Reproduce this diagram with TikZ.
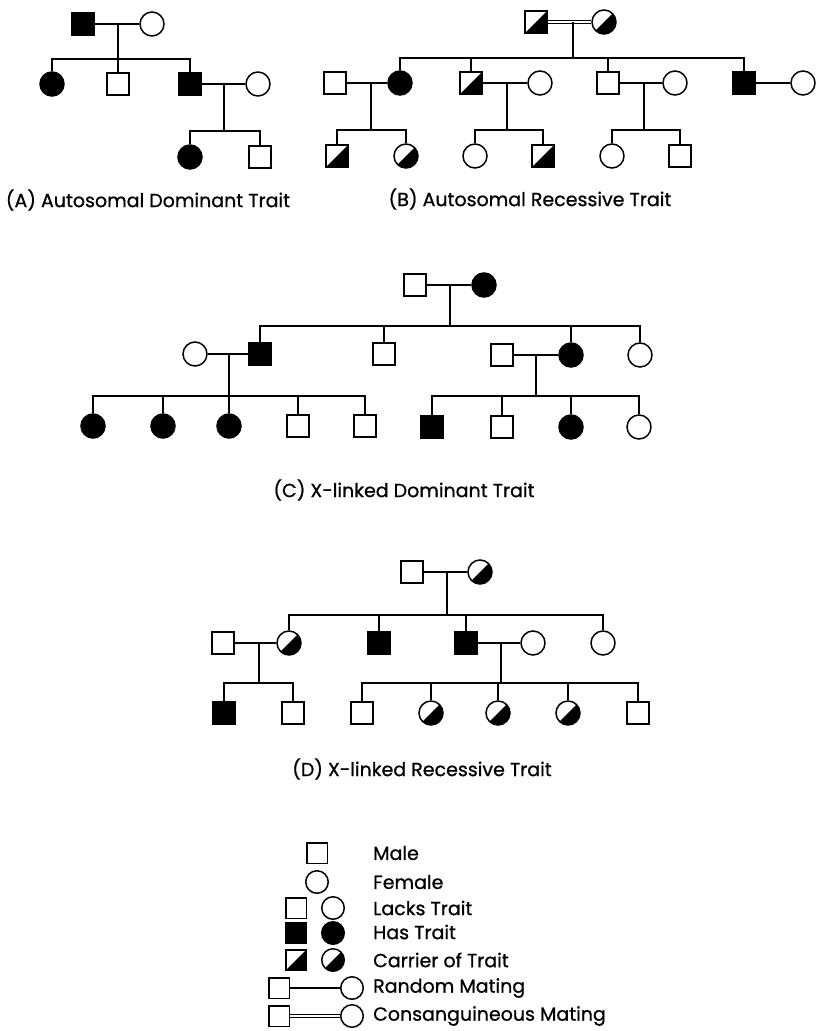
\documentclass[tikz,border=0pt]{standalone}
\usepackage{fontspec}
\setmainfont{Poppins}
\newfontfamily\labfont{Poppins}[FakeBold=0.8]
\usetikzlibrary{calc}
\begin{document}
\begin{tikzpicture}[x=1pt,y=-1pt,
  ln/.style={line width=1.5pt},
  dbl/.style={line width=1.1pt, double distance=2pt},
  msq/.style={draw, line width=1.5pt, rectangle, minimum size=22pt, inner sep=0pt},
  fci/.style={draw, line width=1.5pt, circle, minimum size=24pt, inner sep=0pt},
  lsq/.style={msq, minimum size=20.5pt},
  lci/.style={fci, minimum size=22.5pt},
  aff/.style={fill=black},
  car/.style={path picture={\fill[black] (path picture bounding box.south west) -- (path picture bounding box.south east) -- (path picture bounding box.north east) -- cycle;}},
  lab/.style={font=\labfont\fontsize{19}{22}\selectfont, inner sep=0pt},
  leg/.style={lab, anchor=west}
]
\useasboundingbox (0,0) rectangle (825,1031);

% ---------------- Panel A ----------------
\node[msq,aff] (a1) at (83,24) {};
\node[fci] (a2) at (152,24) {};
\node[fci,aff] (a3) at (52,84) {};
\node[msq] (a4) at (118,84) {};
\node[msq,aff] (a5) at (190,84) {};
\node[fci] (a6) at (258,84) {};
\node[fci,aff] (a7) at (190,157) {};
\node[msq] (a8) at (260,157) {};
\coordinate (am) at (118,24);
\coordinate (as) at (118,59);
\coordinate (bm2) at (224,84);
\coordinate (as2) at (224,131);
\draw[ln] (a1) -- (a2);
\draw[ln] (am) -- (as);
\draw[ln] (a3.north) -- (a3 |- as) -- (a5 |- as) -- (a5.north);
\draw[ln] (a4.north) -- (a4 |- as);
\draw[ln] (a5) -- (a6);
\draw[ln] (bm2) -- (as2);
\draw[ln] (a7.north) -- (a7 |- as2) -- (a8 |- as2) -- (a8.north);
\node[lab] (la) at (148,200) {(A) Autosomal Dominant Trait};

% ---------------- Panel B ----------------
\node[msq,car] (b1) at (536,22) {};
\node[fci,car] (b2) at (604,22) {};
\coordinate (bm) at (573,22);
\coordinate (bs) at (573,58);
\draw[dbl] (b1) -- (b2);
\draw[ln] (bm) -- (bs);
\node[msq] (b4) at (335,83) {};
\node[fci,aff] (b3) at (400,83) {};
\node[msq,car] (b5) at (471,83) {};
\node[fci] (b6) at (540,83) {};
\node[msq] (b7) at (608,83) {};
\node[fci] (b8) at (675,83) {};
\node[msq,aff] (b9) at (744,83) {};
\node[fci] (b10) at (803,83) {};
\draw[ln] (b3.north) -- (b3 |- bs) -- (b9 |- bs) -- (b9.north);
\draw[ln] (b5.north) -- (b5 |- bs);
\draw[ln] (b7.north) -- (b7 |- bs);
\draw[ln] (b4) -- (b3);
\draw[ln] (b5) -- (b6);
\draw[ln] (b7) -- (b8);
\draw[ln] (b9) -- (b10);
\coordinate (bm1) at (371,83);
\coordinate (bs1) at (371,130);
\coordinate (bm2) at (507,83);
\coordinate (bs2) at (507,130);
\coordinate (bm3) at (644,83);
\coordinate (bs3) at (644,130);
\draw[ln] (bm1) -- (bs1);
\draw[ln] (bm2) -- (bs2);
\draw[ln] (bm3) -- (bs3);
\node[msq,car] (b11) at (337,156) {};
\node[fci,car] (b12) at (406,156) {};
\node[fci] (b13) at (475,156) {};
\node[msq,car] (b14) at (543,156) {};
\node[fci] (b15) at (612,156) {};
\node[msq] (b16) at (680,156) {};
\draw[ln] (b11.north) -- (b11 |- bs1) -- (b12 |- bs1) -- (b12.north);
\draw[ln] (b13.north) -- (b13 |- bs2) -- (b14 |- bs2) -- (b14.north);
\draw[ln] (b15.north) -- (b15 |- bs3) -- (b16 |- bs3) -- (b16.north);
\node[lab] (lb) at (530,199) {(B) Autosomal Recessive Trait};

% ---------------- Panel C ----------------
\node[msq] (c1) at (415,285) {};
\node[fci,aff] (c2) at (484,285) {};
\coordinate (cm) at (450,285);
\coordinate (cs) at (450,326);
\draw[ln] (c1) -- (c2);
\draw[ln] (cm) -- (cs);
\node[fci] (c7) at (195,354) {};
\node[msq,aff] (c3) at (260,354) {};
\node[msq] (c4) at (384,354) {};
\node[msq] (c8) at (502,355) {};
\node[fci,aff] (c5) at (571,355) {};
\node[fci] (c6) at (640,355) {};
\draw[ln] (c3.north) -- (c3 |- cs) -- (c6 |- cs) -- (c6.north);
\draw[ln] (c4.north) -- (c4 |- cs);
\draw[ln] (c5.north) -- (c5 |- cs);
\draw[ln] (c7) -- (c3);
\draw[ln] (c8) -- (c5);
\coordinate (cm1) at (229,354);
\coordinate (cs1) at (229,396);
\coordinate (cm2) at (536,355);
\coordinate (cs2) at (536,396);
\draw[ln] (cm1) -- (cs1);
\draw[ln] (cm2) -- (cs2);
\node[fci,aff] (c9) at (93,426) {};
\node[fci,aff] (c10) at (163,426) {};
\node[fci,aff] (c11) at (229,426) {};
\node[msq] (c12) at (298,426) {};
\node[msq] (c13) at (365,426) {};
\node[msq,aff] (c14) at (432,427) {};
\node[msq] (c15) at (502,427) {};
\node[fci,aff] (c16) at (571,427) {};
\node[fci] (c17) at (639,427) {};
\draw[ln] (c9.north) -- (c9 |- cs1) -- (c13 |- cs1) -- (c13.north);
\draw[ln] (c10.north) -- (c10 |- cs1);
\draw[ln] (c11.north) -- (c11 |- cs1);
\draw[ln] (c12.north) -- (c12 |- cs1);
\draw[ln] (c14.north) -- (c14 |- cs2) -- (c17 |- cs2) -- (c17.north);
\draw[ln] (c15.north) -- (c15 |- cs2);
\draw[ln] (c16.north) -- (c16 |- cs2);
\node[lab] (lc) at (404,490) {(C) X-linked Dominant Trait};

% ---------------- Panel D ----------------
\node[msq] (d1) at (412,572) {};
\node[fci,car] (d2) at (480,572) {};
\coordinate (dm) at (447,572);
\coordinate (ds) at (447,615);
\draw[ln] (d1) -- (d2);
\draw[ln] (dm) -- (ds);
\node[msq] (d7) at (223,643) {};
\node[fci,car] (d3) at (289,643) {};
\node[msq,aff] (d4) at (379,643) {};
\node[msq,aff] (d5) at (466,643) {};
\node[fci] (d8) at (533,643) {};
\node[fci] (d6) at (603,643) {};
\draw[ln] (d3.north) -- (d3 |- ds) -- (d6 |- ds) -- (d6.north);
\draw[ln] (d4.north) -- (d4 |- ds);
\draw[ln] (d5.north) -- (d5 |- ds);
\draw[ln] (d7) -- (d3);
\draw[ln] (d5) -- (d8);
\coordinate (dm1) at (259,643);
\coordinate (ds1) at (259,683);
\coordinate (dm2) at (501,643);
\coordinate (ds2) at (501,683);
\draw[ln] (dm1) -- (ds1);
\draw[ln] (dm2) -- (ds2);
\node[msq,aff] (d9) at (224,713) {};
\node[msq] (d10) at (293,713) {};
\node[msq] (d11) at (362,713) {};
\node[fci,car] (d12) at (431,713) {};
\node[fci,car] (d13) at (498,713) {};
\node[fci,car] (d14) at (568,713) {};
\node[msq] (d15) at (638,713) {};
\draw[ln] (d9.north) -- (d9 |- ds1) -- (d10 |- ds1) -- (d10.north);
\draw[ln] (d11.north) -- (d11 |- ds2) -- (d15 |- ds2) -- (d15.north);
\draw[ln] (d12.north) -- (d12 |- ds2);
\draw[ln] (d13.north) -- (d13 |- ds2);
\draw[ln] (d14.north) -- (d14 |- ds2);
\node[lab] (ld) at (422,769) {(D) X-linked Recessive Trait};

% ---------------- Legend ----------------
\node[lsq] (l1) at (317,853) {};
\node[leg] (t1) at (373,853) {Male};
\node[lci] (l2) at (317,882) {};
\node[leg] (t2) at (373,882) {Female};
\node[lsq] (l3) at (296,908) {};
\node[lci] (l4) at (333,908) {};
\node[leg] (t3) at (373,908) {Lacks Trait};
\node[lsq,aff] (l5) at (296,933) {};
\node[lci,aff] (l6) at (333,933) {};
\node[leg] (t4) at (373,932) {Has Trait};
\node[lsq,car] (l7) at (296,960) {};
\node[lci,car] (l8) at (333,960) {};
\node[leg] (t5) at (373,960) {Carrier of Trait};
\node[lsq] (l9) at (279,988) {};
\node[lci] (l10) at (352,988) {};
\draw[line width=1.1pt] (l9) -- (l10);
\node[leg] (t6) at (373,988) {Random Mating};
\node[lsq] (l11) at (279,1016) {};
\node[lci] (l12) at (352,1016) {};
\draw[dbl] (l11) -- (l12);
\node[leg] (t7) at (373,1016) {Consanguineous Mating};
\end{tikzpicture}
\end{document}
